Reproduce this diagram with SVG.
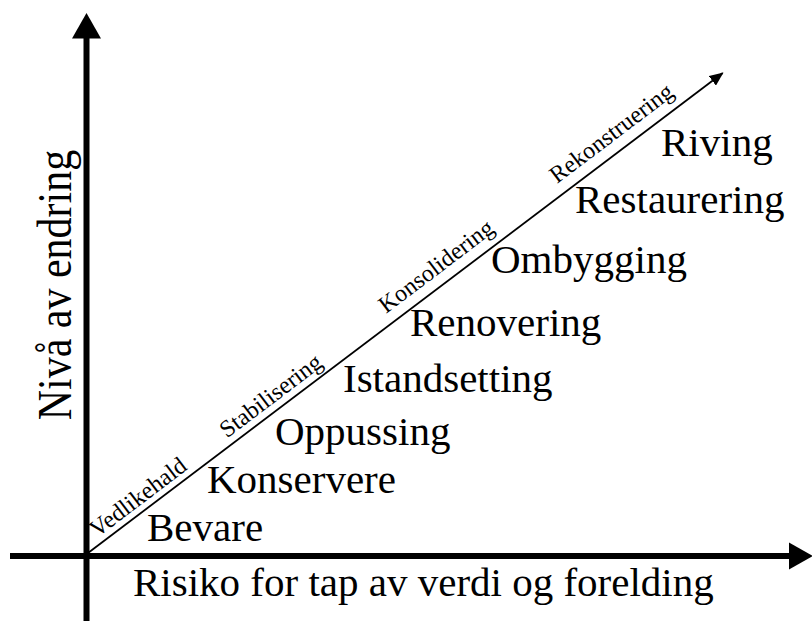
<svg xmlns="http://www.w3.org/2000/svg" width="812" height="621" viewBox="0 0 812 621">
  <style>
    .lbl { font-family: "Liberation Serif", "Times New Roman", serif; font-size: 41px; fill: #000; }
    .axis-title { font-family: "Liberation Serif", "Times New Roman", serif; font-size: 42px; fill: #000; }
    .phase { font-family: "Liberation Serif", "Times New Roman", serif; font-size: 24px; fill: #000; }
    .axis { stroke: #000; stroke-width: 6; fill: none; }
    .diag { stroke: #000; stroke-width: 1.8; fill: none; }
  </style>
  <defs>
    <marker id="smallHead" viewBox="0 0 14 12" refX="13" refY="6" markerWidth="14" markerHeight="12" markerUnits="userSpaceOnUse" orient="auto">
      <path d="M0,0 L14,6 L0,12 Z" fill="#000"/>
    </marker>
  </defs>

  <rect width="812" height="621" fill="#fff"/>

  <!-- axes -->
  <g id="axes">
    <line class="axis" x1="86.5" y1="621" x2="86.5" y2="34"/>
    <polygon points="86.5,13 72,38.5 101,38.5" fill="#000"/>
    <line class="axis" x1="10" y1="556" x2="792" y2="556"/>
    <polygon points="813,556 789,542.5 789,569.5" fill="#000"/>
  </g>

  <!-- connectors: the diagonal scale -->
  <g id="connectors">
    <line class="diag" x1="88" y1="553" x2="722.7" y2="73" marker-end="url(#smallHead)"/>
  </g>

  <!-- phases written along the diagonal -->
  <g id="phases">
    <text class="phase" transform="translate(97,538) rotate(-37.14)">Vedlikehald</text>
    <text class="phase" transform="translate(227,438.5) rotate(-37.14)">Stabilisering</text>
    <text class="phase" transform="translate(386,314) rotate(-37.14)">Konsolidering</text>
    <text class="phase" transform="translate(557,184) rotate(-37.14)">Rekonstruering</text>
  </g>

  <!-- measures, from least to most change -->
  <g id="n-bevare"><text class="lbl" x="147" y="541">Bevare</text></g>
  <g id="n-konservere"><text class="lbl" x="207" y="493">Konservere</text></g>
  <g id="n-oppussing"><text class="lbl" x="275" y="445">Oppussing</text></g>
  <g id="n-istandsetting"><text class="lbl" x="343" y="392">Istandsetting</text></g>
  <g id="n-renovering"><text class="lbl" x="410" y="336">Renovering</text></g>
  <g id="n-ombygging"><text class="lbl" x="491" y="273">Ombygging</text></g>
  <g id="n-restaurering"><text class="lbl" x="575" y="213">Restaurering</text></g>
  <g id="n-riving"><text class="lbl" x="661" y="156">Riving</text></g>

  <!-- axis titles -->
  <g id="x-title"><text class="lbl" x="133" y="596">Risiko for tap av verdi og forelding</text></g>
  <g id="y-title"><text class="axis-title" transform="translate(71,285) scale(1.15,1) rotate(-90)" text-anchor="middle">Nivå av endring</text></g>
</svg>
